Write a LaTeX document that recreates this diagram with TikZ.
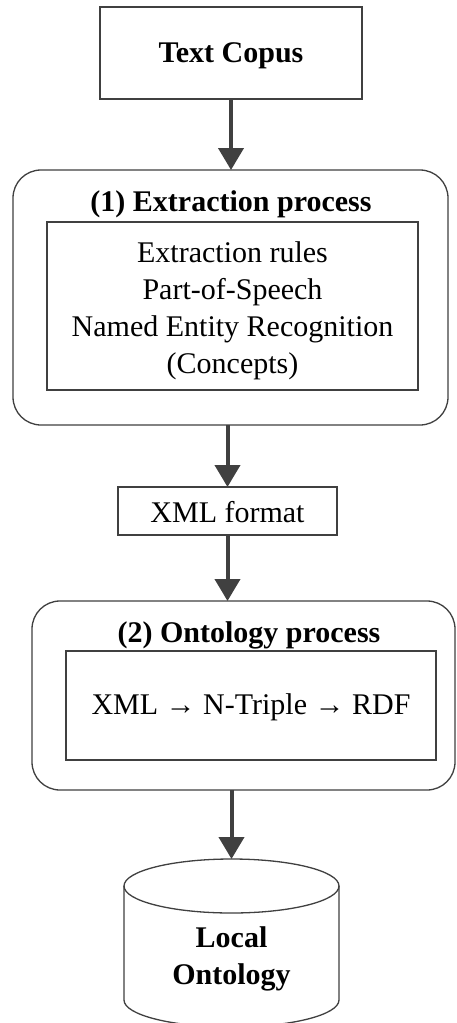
\documentclass[tikz,border=0pt]{standalone}
\usepackage{fontspec}
\setmainfont{Liberation Serif}
\usetikzlibrary{arrows.meta}
\definecolor{edge}{HTML}{404040}
\tikzset{
  box/.style={draw=edge, line width=1.3pt, rectangle, inner sep=0pt, outer sep=0pt},
  panel/.style={box, rounded corners=28pt},
  label/.style={inner sep=0pt, align=center, font=\fontsize{30}{37}\selectfont},
  boldlabel/.style={label, font=\fontsize{30}{37}\selectfont\bfseries},
  flow/.style={draw=edge, line width=4pt, -{Triangle[width=25pt,length=22pt]}}
}
\begin{document}
\begin{tikzpicture}[x=1pt, y=-1pt]
  \clip (0,0) rectangle (456,1023);
  \fill[white] (0,0) rectangle (456,1023);

  % input corpus
  \node[box, minimum width=262pt, minimum height=92pt] (corpus) at (231,53) {};
  \node[boldlabel] (corpustext) at (231,56) {Text Copus};

  % stage 1
  \node[panel, minimum width=435pt, minimum height=255pt] (ext) at (230.5,297.5) {};
  \node[boldlabel] (exttitle) at (231,204) {(1) Extraction process};
  \node[box, minimum width=371pt, minimum height=168pt] (extbox) at (232.5,306) {};
  \node[label] (exttext) at (232.5,311) {Extraction rules\\Part-of-Speech\\Named Entity Recognition\\(Concepts)};

  % intermediate format
  \node[box, minimum width=219pt, minimum height=48pt] (xml) at (227.5,511) {};
  \node[label] (xmltext) at (227.5,512) {XML format};

  % stage 2
  \node[panel, minimum width=423pt, minimum height=189pt] (onto) at (243.5,695.5) {};
  \node[boldlabel] (ontotitle) at (249,635) {(2) Ontology process};
  \node[box, minimum width=370pt, minimum height=109pt] (conv) at (251,705.5) {};
  \node[label] (convtext) at (251,707) {XML → N-Triple → RDF};

  % output store (cylinder)
  \coordinate (dbtop) at (231.5,859);
  \draw[edge, line width=1.3pt, fill=white]
    (124,886) -- (124,1000) arc[start angle=180, end angle=360, x radius=107.5pt, y radius=27pt]
    -- (339,886) arc[start angle=0, end angle=180, x radius=107.5pt, y radius=27pt];
  \draw[edge, line width=1.3pt]
    (124,886) arc[start angle=180, end angle=360, x radius=107.5pt, y radius=27pt];
  \node[boldlabel] (db) at (231.5,959) {Local\\Ontology};

  % connectors
  \draw[flow] (corpus.south) -- (corpus.south |- ext.north);
  \draw[flow] (xml.north |- ext.south) -- (xml.north);
  \draw[flow] (xml.south) -- (xml.south |- onto.north);
  \draw[flow] (dbtop |- onto.south) -- (dbtop);
\end{tikzpicture}
\end{document}
